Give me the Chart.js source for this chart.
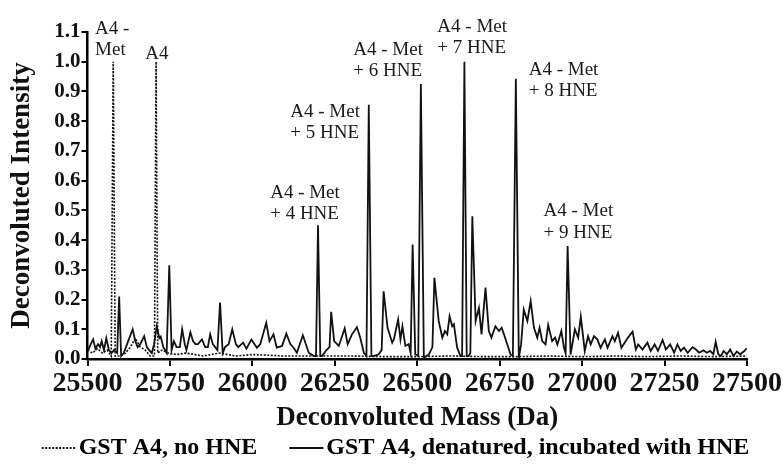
<!DOCTYPE html>
<html>
<head>
<meta charset="utf-8">
<script src="https://cdn.jsdelivr.net/npm/chart.js@4.4.1/dist/chart.umd.min.js"></script>
<style>
  html, body { margin: 0; padding: 0; background: #fff; }
  #wrap { width: 783px; height: 470px; }
</style>
</head>
<body>
<div id="wrap"><canvas id="c" width="783" height="470"></canvas></div>
<script>
// deconvoluted mass (Da) / intensity
const massSolid = [
  25502, 25510, 25517, 25524, 25532, 25538, 25543, 25550, 25557, 25565,
  25573, 25580, 25590, 25596, 25602, 25610, 25620, 25637, 25645, 25652,
  25660, 25672, 25680, 25687, 25695, 25702, 25710, 25718, 25722, 25730,
  25740, 25748, 25755, 25762, 25770, 25780, 25787, 25795, 25800, 25812,
  25820, 25827, 25835, 25847, 25857, 25865, 25872, 25880, 25887, 25894,
  25902, 25910, 25917, 25928, 25939, 25950, 25957, 25972, 25982, 25997,
  26014, 26024, 26042, 26052, 26064, 26074, 26090, 26103, 26115, 26125,
  26135, 26153, 26171, 26186, 26193, 26199, 26206, 26211, 26226, 26234,
  26239, 26248, 26262, 26280, 26289, 26302, 26317, 26327, 26338, 26346,
  26353, 26361, 26368, 26383, 26392, 26398, 26410, 26424, 26429, 26442,
  26449, 26455, 26464, 26474, 26480, 26486, 26494, 26503, 26511, 26520,
  26535, 26546, 26552, 26565, 26576, 26584, 26591, 26598, 26606, 26611,
  26621, 26631, 26636, 26643, 26650, 26656, 26661, 26667, 26677, 26687,
  26695, 26707, 26717, 26725, 26737, 26748, 26756, 26763, 26773, 26783,
  26790, 26799, 26808, 26815, 26823, 26834, 26844, 26854, 26864, 26871,
  26879, 26889, 26897, 26909, 26918, 26925, 26937, 26945, 26950, 26956,
  26965, 26978, 26988, 26996, 27008, 27018, 27026, 27036, 27046, 27056,
  27069, 27077, 27092, 27099, 27109, 27119, 27129, 27139, 27153, 27163,
  27170, 27183, 27198, 27208, 27220, 27230, 27244, 27254, 27267, 27279,
  27289, 27299, 27309, 27320, 27335, 27345, 27355, 27368, 27378, 27388,
  27398, 27405, 27413, 27421, 27429, 27439, 27449, 27459, 27469, 27479,
  27492, 27499
];
const intSolid = [
  0.03, 0.05, 0.066, 0.035, 0.05, 0.04, 0.06, 0.03, 0.07, 0.03,
  0.02, 0.03, 0.02, 0.21, 0.01, 0.02, 0.05, 0.10, 0.06, 0.04,
  0.05, 0.077, 0.04, 0.03, 0.02, 0.05, 0.11, 0.07, 0.075, 0.04,
  0.02, 0.315, 0.03, 0.06, 0.04, 0.04, 0.10, 0.05, 0.03, 0.09,
  0.06, 0.05, 0.05, 0.066, 0.04, 0.04, 0.083, 0.05, 0.04, 0.03,
  0.19, 0.02, 0.04, 0.05, 0.10, 0.05, 0.04, 0.055, 0.035, 0.065,
  0.038, 0.05, 0.122, 0.06, 0.083, 0.038, 0.044, 0.085, 0.05, 0.038,
  0.021, 0.08, 0.021, 0.01, 0.01, 0.45, 0.01, 0.01, 0.032, 0.04,
  0.159, 0.06, 0.044, 0.103, 0.05, 0.083, 0.107, 0.072, 0.021, 0.01,
  0.855, 0.01, 0.01, 0.016, 0.03, 0.228, 0.105, 0.055, 0.066, 0.133,
  0.066, 0.11, 0.044, 0.05, 0.02, 0.385, 0.016, 0.01, 0.925, 0.004,
  0.015, 0.04, 0.273, 0.128, 0.072, 0.094, 0.083, 0.144, 0.11, 0.117,
  0.038, 0.01, 0.01, 1.0, 0.01, 0.01, 0.02, 0.48, 0.128, 0.172,
  0.083, 0.24, 0.094, 0.072, 0.11, 0.094, 0.105, 0.083, 0.049, 0.015,
  0.01, 0.943, 0.004, 0.05, 0.166, 0.128, 0.195, 0.105, 0.072, 0.105,
  0.06, 0.049, 0.114, 0.06, 0.072, 0.049, 0.094, 0.038, 0.02, 0.38,
  0.015, 0.10, 0.072, 0.142, 0.027, 0.077, 0.049, 0.077, 0.066, 0.038,
  0.066, 0.038, 0.077, 0.06, 0.088, 0.038, 0.055, 0.072, 0.092, 0.032,
  0.049, 0.032, 0.055, 0.027, 0.049, 0.027, 0.064, 0.032, 0.049, 0.021,
  0.049, 0.027, 0.038, 0.021, 0.04, 0.032, 0.021, 0.029, 0.021, 0.027,
  0.016, 0.058, 0.016, 0.01, 0.027, 0.016, 0.032, 0.01, 0.025, 0.016,
  0.027, 0.036
];

const massDotted = [
  25500, 25515, 25530, 25545, 25560, 25572, 25578, 25584, 25600, 25615,
  25630, 25645, 25660, 25675, 25690, 25703, 25708, 25713, 25725, 25745,
  25770, 25800, 25850, 25900, 25950, 26000, 26100, 26200, 26300, 26400,
  26500, 26600, 26700, 26800, 26900, 27000, 27100, 27200, 27300, 27400, 27500
];
const intDotted = [
  0.03, 0.02, 0.035, 0.02, 0.03, 0.01, 1.0, 0.01, 0.01, 0.02,
  0.04, 0.07, 0.04, 0.03, 0.01, 0.01, 1.0, 0.02, 0.03, 0.02,
  0.015, 0.02, 0.01, 0.02, 0.01, 0.015, 0.01, 0.01, 0.01, 0.008,
  0.008, 0.01, 0.008, 0.008, 0.01, 0.008, 0.01, 0.008, 0.01, 0.008, 0.01
];

const seriesNames = ['GST A4, no HNE', 'GST A4, denatured, incubated with HNE'];

// peak annotations
const peakLabels = [
  ['A4 -', 'Met'], ['A4'],
  ['A4 - Met', '+ 4 HNE'], ['A4 - Met', '+ 5 HNE'], ['A4 - Met', '+ 6 HNE'],
  ['A4 - Met', '+ 7 HNE'], ['A4 - Met', '+ 8 HNE'], ['A4 - Met', '+ 9 HNE']
];
const labelMass = [25523, 25675, 26054, 26115, 26306, 26561, 26838, 26883];
const labelInt = [1.111, 1.027, 0.560, 0.832, 1.040, 1.117, 0.973, 0.497];

const xTicks = [25500, 25750, 26000, 26250, 26500, 26750, 27000, 27250, 27500];

function toPoints(xs, ys) {
  return xs.map((x, i) => ({ x: x, y: ys[i] }));
}

const serif = "'Liberation Serif', 'Times New Roman', serif";

const peakLabelPlugin = {
  id: 'peakLabels',
  afterDatasetsDraw(chart) {
    const ctx = chart.ctx;
    const xs = chart.scales.x, ys = chart.scales.y;
    ctx.save();
    ctx.font = '19px ' + serif;
    ctx.fillStyle = '#1a1a1a';
    ctx.textAlign = 'left';
    ctx.textBaseline = 'middle';
    peakLabels.forEach((lines, i) => {
      const px = xs.getPixelForValue(labelMass[i]);
      const py = ys.getPixelForValue(labelInt[i]);
      lines.forEach((t, j) => ctx.fillText(t, px, py + j * 21.5));
    });
    ctx.restore();
  }
};

// legend row under the axis title, line samples taken from the datasets
const legendPlugin = {
  id: 'bottomLegend',
  afterDraw(chart) {
    const ctx = chart.ctx;
    const y = chart.height - 22;
    const sample = 34, gapText = 3, gapItem = 32;
    ctx.save();
    ctx.font = 'bold 24px ' + serif;
    ctx.textBaseline = 'middle';
    ctx.textAlign = 'left';
    const sets = chart.data.datasets;
    let total = 0;
    sets.forEach((d, i) => {
      total += sample + gapText + ctx.measureText(d.label).width + (i ? gapItem : 0);
    });
    let x = (chart.width - total) / 2 + 4;
    sets.forEach((d, i) => {
      if (i) x += gapItem;
      ctx.strokeStyle = d.borderColor;
      ctx.lineWidth = 2;
      ctx.setLineDash(d.borderDash || []);
      ctx.beginPath();
      ctx.moveTo(x, y);
      ctx.lineTo(x + sample, y);
      ctx.stroke();
      ctx.setLineDash([]);
      x += sample + gapText;
      ctx.fillStyle = '#000';
      ctx.fillText(d.label, x, y);
      x += ctx.measureText(d.label).width;
    });
    ctx.restore();
  }
};

const chart = new Chart(document.getElementById('c'), {
  type: 'line',
  data: {
    datasets: [
      {
        label: seriesNames[0],
        data: toPoints(massDotted, intDotted),
        borderColor: '#111',
        backgroundColor: 'transparent',
        borderWidth: 1.6,
        borderDash: [2, 1.5],
        pointRadius: 0,
        tension: 0
      },
      {
        label: seriesNames[1],
        data: toPoints(massSolid, intSolid),
        borderColor: '#111',
        backgroundColor: 'transparent',
        borderWidth: 1.8,
        pointRadius: 0,
        tension: 0
      }
    ]
  },
  options: {
    responsive: false,
    animation: false,
    layout: { padding: { left: 0, right: 2, top: 32, bottom: 36 } },
    plugins: {
      tooltip: { enabled: false },
      legend: { display: false }
    },
    scales: {
      x: {
        type: 'linear',
        min: 25500,
        max: 27500,
        afterBuildTicks: (s) => { s.ticks = xTicks.map(v => ({ value: v })); },
        ticks: {
          color: '#111',
          padding: 1,
          maxRotation: 0,
          font: { family: serif, size: 28, weight: 'bold' },
          callback: (v) => String(v)
        },
        grid: { display: true, drawOnChartArea: false, tickLength: 7, color: '#000', lineWidth: 2 },
        border: { display: true, color: '#000', width: 2.5 },
        title: {
          display: true,
          text: 'Deconvoluted Mass (Da)',
          color: '#111',
          font: { family: serif, size: 27, weight: 'bold' },
          padding: { top: 0, bottom: 0 }
        }
      },
      y: {
        min: 0,
        max: 1.1,
        afterFit: (s) => { s.width = 87.5; },
        ticks: {
          stepSize: 0.1,
          color: '#111',
          padding: 1,
          font: { family: serif, size: 21, weight: 'bold' },
          callback: (v) => v.toFixed(1)
        },
        grid: { display: true, drawOnChartArea: false, tickLength: 6, color: '#000', lineWidth: 2 },
        border: { display: true, color: '#000', width: 2.5 },
        title: {
          display: true,
          text: 'Deconvoluted Intensity',
          color: '#111',
          font: { family: serif, size: 27, weight: 'bold' },
          padding: { top: 6, bottom: 0 }
        }
      }
    }
  },
  plugins: [peakLabelPlugin, legendPlugin]
});
</script>
</body>
</html>
